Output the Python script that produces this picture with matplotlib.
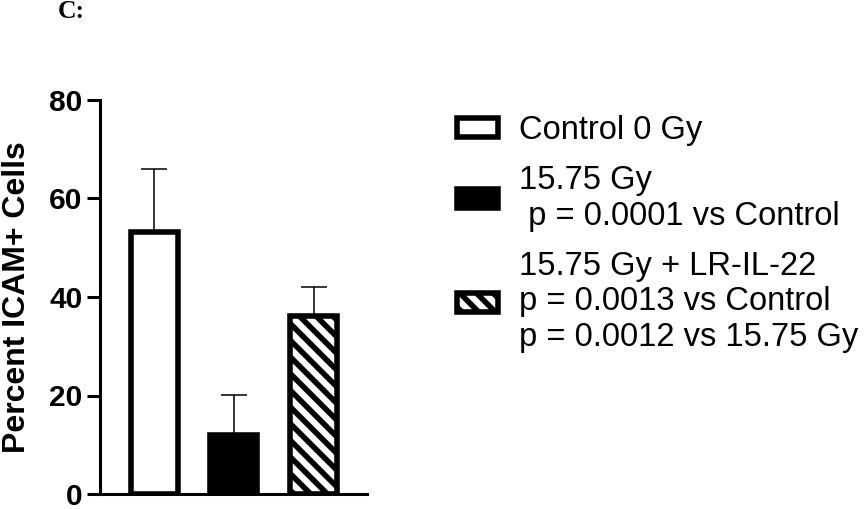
import matplotlib as mpl
mpl.use('Agg')
import matplotlib.pyplot as plt
from matplotlib.patches import Patch

mpl.rcParams['font.family'] = 'Liberation Sans'
mpl.rcParams['hatch.linewidth'] = 4.0

groups = ['Control 0 Gy',
          '15.75 Gy\n p = 0.0001 vs Control',
          '15.75 Gy + LR-IL-22\np = 0.0013 vs Control\np = 0.0012 vs 15.75 Gy']
means = [53.2, 11.9, 36.2]
sems = [12.8, 8.3, 5.9]
faces = ['white', 'black', 'white']
hatches = ['', '', '\\\\']

fig = plt.figure(figsize=(8.65, 5.09), dpi=100)
ax = fig.add_axes([100/865, 15/509, 267/865, 394/509])

x = list(range(len(means)))
# error bars only upwards, behind the bars
ax.errorbar(x, means, yerr=[[0]*3, sems], fmt='none', ecolor='black',
            elinewidth=1.1, capsize=9.5, capthick=1.1, zorder=1)
bars = ax.bar(x, means, width=0.59, color=faces, edgecolor='black',
              linewidth=4, zorder=2)
for b, h in zip(bars, hatches):
    b.set_hatch(h)

ax.set_xlim(-0.68, 2.67)
ax.set_ylim(0, 80)
ax.set_yticks([0, 20, 40, 60, 80])
ax.set_xticks([])
for s in ['top', 'right']:
    ax.spines[s].set_visible(False)
for s in ['left', 'bottom']:
    ax.spines[s].set_linewidth(2.2)
ax.tick_params(axis='y', length=9.5, width=2.2, labelsize=21.5, pad=3)
for t in ax.get_yticklabels():
    t.set_fontweight('bold')
ax.set_ylabel('Percent ICAM+ Cells', fontsize=23, fontweight='bold')
ax.yaxis.set_label_coords(-0.256, 0.5)

handles = [Patch(facecolor=f, edgecolor='black', linewidth=4, hatch=h)
           for f, h in zip(faces, hatches)]
fig.legend(handles, groups, loc='upper left', bbox_to_anchor=(457/865, 1 - 115/509),
           frameon=False, fontsize=23.5, handlelength=1.25, handleheight=0.5,
           handletextpad=0.65, labelspacing=0.58, borderaxespad=0, borderpad=0)

fig.text(58/865, 1 - 11/509, 'C:', fontsize=18.5, fontweight='bold',
         family='Liberation Serif', va='center', ha='left')

fig.savefig('out.png', dpi=100)
